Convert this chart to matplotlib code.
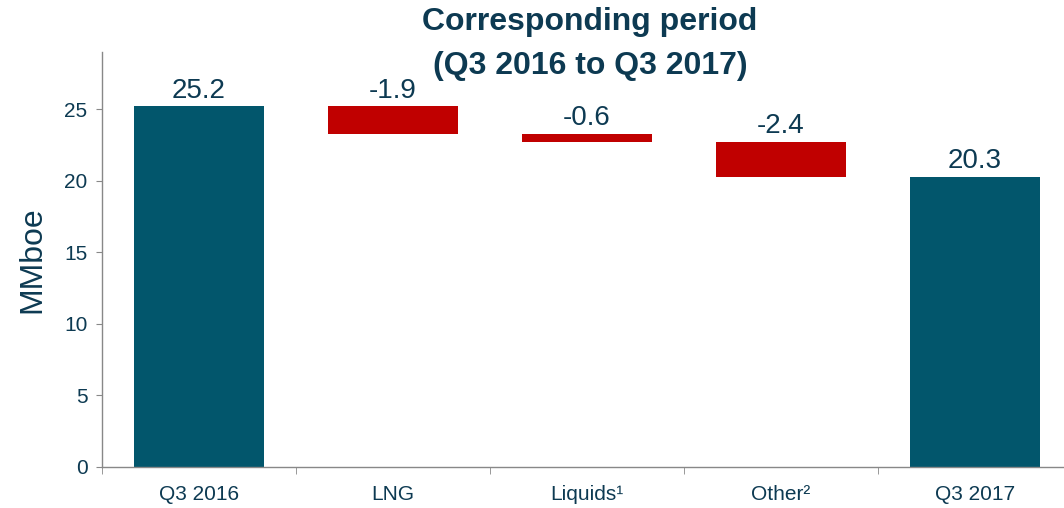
import numpy as np
import matplotlib.pyplot as plt

plt.rcParams['font.family'] = ['Liberation Sans', 'DejaVu Sans']

# waterfall data
categories = ['Q3 2016', 'LNG', 'Liquids¹', 'Other²', 'Q3 2017']
changes = [25.2, -1.9, -0.6, -2.4, 20.3]
is_total = [True, False, False, False, True]

navy = '#0D3A52'
teal = '#02566C'
red = '#C00000'

# bottoms/heights for the floating bars
bottoms = []
heights = []
running = 0.0
for v, tot in zip(changes, is_total):
    if tot:
        bottoms.append(0)
        heights.append(v)
        running = v
    else:
        bottoms.append(running + v)
        heights.append(-v)
        running = running + v

fig = plt.figure(figsize=(10.64, 5.08), dpi=100)
ax = fig.add_axes([102 / 1064, 41 / 508, 970 / 1064, 415 / 508])

x = np.arange(len(categories))
colors = [teal if t else red for t in is_total]
ax.bar(x, heights, bottom=bottoms, width=0.665, color=colors)

for xi, b, h, v in zip(x, bottoms, heights, changes):
    ax.text(xi, b + h + 0.2, f'{v:.1f}', ha='center', va='bottom',
            fontsize=20, color=navy)

ax.set_xlim(-0.5, 4.5)
ax.set_ylim(0, 29)
ax.set_yticks([0, 5, 10, 15, 20, 25])
ax.set_xticks(x)
ax.set_xticklabels(categories)
ax.set_xticks(np.arange(-0.5, 5, 1), minor=True)
ax.tick_params(axis='x', which='major', length=0, pad=13, labelsize=15, labelcolor=navy)
ax.tick_params(axis='x', which='minor', length=5, color='#888888')
ax.tick_params(axis='y', length=4.5, color='#888888', labelsize=15, labelcolor=navy, pad=6)

for s in ['top', 'right']:
    ax.spines[s].set_visible(False)
for s in ['left', 'bottom']:
    ax.spines[s].set_color('#888888')
    ax.spines[s].set_linewidth(1)

ax.set_ylabel('MMboe', fontsize=23, color=navy, labelpad=12)

fig.text(590 / 1064, 1 - 22 / 508, 'Corresponding period', ha='center', va='center',
         fontsize=23, fontweight='bold', color=navy)
fig.text(590 / 1064, 1 - 66 / 508, '(Q3 2016 to Q3 2017)', ha='center', va='center',
         fontsize=23, fontweight='bold', color=navy)

fig.savefig('out.png', dpi=100)
